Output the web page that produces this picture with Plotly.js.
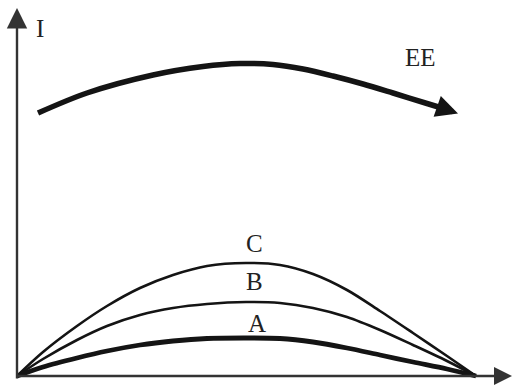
<!DOCTYPE html>
<html>
<head>
<meta charset="utf-8">
<script src="https://cdn.plot.ly/plotly-3.0.1.min.js"></script>
<style>html,body{margin:0;padding:0;background:#fff;}#chart{width:514px;height:385px;}</style>
</head>
<body>
<div id="chart"></div>
<script>
// Curve positions (x from origin) and intensities I for curves A, B, C
var xPos   = [0, 26, 60, 90, 123, 156, 190, 229, 263, 296, 330, 363, 396, 430, 459];
var curveC = [0, 24, 50, 70, 88, 101, 110, 113, 111, 102, 86, 65, 43, 20, 0];
var curveB = [0, 17, 36, 50, 61, 68, 72, 74, 73, 68, 59, 46, 31, 15, 0];
var curveA = [0, 9, 18, 25, 31, 35, 37.5, 38, 37.5, 34, 28, 21, 14, 7, 0];
// EE curve
var eeX = [21, 70, 136, 186, 223, 256, 286, 316, 346, 376, 410, 428];
var eeY = [263, 283, 301, 309.5, 312.5, 311.5, 307, 300, 292, 283, 272.5, 267];
var eeTip = [441, 262.5];
// Labels
var curveLabels = ["C", "B", "A"];
var labelX = [237, 237, 240];
var labelY = [133, 95, 53];
var axisLabel = "I";
var eeLabel = "EE";

var ink = "#141414";
var font = {family: "Liberation Serif, Times New Roman, serif", size: 25, color: "#222"};

function line(x, y, w) {
  return {x: x, y: y, type: "scatter", mode: "lines",
          line: {color: ink, width: w, shape: "spline", smoothing: 0.9},
          hoverinfo: "skip", showlegend: false};
}

var data = [
  line(xPos, curveC, 2.6),
  line(xPos, curveB, 2.6),
  line(xPos, curveA, 4.8),
  line(eeX, eeY, 5.5)
];

var annotations = [
  // y axis arrow
  {x: 0, y: 368, ax: 0, ay: -4, xref: "x", yref: "y", axref: "x", ayref: "y",
   showarrow: true, arrowhead: 2, arrowsize: 1.7, arrowwidth: 2.4, arrowcolor: "#333", text: ""},
  // x axis arrow
  {x: 495, y: 0, ax: -1, ay: 0, xref: "x", yref: "y", axref: "x", ayref: "y",
   showarrow: true, arrowhead: 2, arrowsize: 1.5, arrowwidth: 2.4, arrowcolor: "#333", text: ""},
  // EE arrow head
  {x: eeTip[0], y: eeTip[1], ax: eeX[eeX.length - 1], ay: eeY[eeY.length - 1],
   xref: "x", yref: "y", axref: "x", ayref: "y",
   showarrow: true, arrowhead: 2, arrowsize: 0.8, arrowwidth: 5.5, arrowcolor: ink, text: ""},
  {x: 23, y: 348, xref: "x", yref: "y", text: axisLabel, showarrow: false, font: font},
  {x: 403, y: 319, xref: "x", yref: "y", text: eeLabel, showarrow: false, font: font}
];
for (var i = 0; i < curveLabels.length; i++) {
  annotations.push({x: labelX[i], y: labelY[i], xref: "x", yref: "y",
    text: curveLabels[i], showarrow: false, font: font});
}

var layout = {
  width: 514, height: 385,
  margin: {l: 0, r: 0, t: 0, b: 0, pad: 0},
  paper_bgcolor: "#fff", plot_bgcolor: "#fff",
  xaxis: {range: [-17, 497], visible: false, fixedrange: true},
  yaxis: {range: [-9, 376], visible: false, fixedrange: true},
  annotations: annotations,
  showlegend: false
};

Plotly.newPlot("chart", data, layout, {displayModeBar: false, staticPlot: true});
</script>
</body>
</html>
